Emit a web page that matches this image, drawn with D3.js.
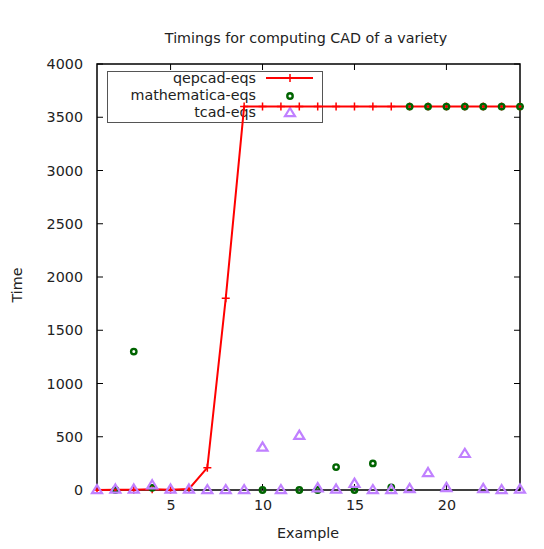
<!DOCTYPE html>
<html>
<head>
<meta charset="utf-8">
<script src="https://cdn.jsdelivr.net/npm/d3@7"></script>
<style>
  body { margin: 0; background: #fff; }
  text { font-family: "DejaVu Sans", sans-serif; fill: #222; }
</style>
</head>
<body>
<div id="chart"></div>
<script>
// values
const examples = d3.range(1, 25);
const qepcad = [1, 2, 2, 6, 3, 10, 210, 1800, 3600, 3600, 3600, 3600, 3600, 3600, 3600, 3600,
    3600, 3600, 3600, 3600, 3600, 3600, 3600, 3600];
const mathematica = [null, 0, 1300, 20, null, null, null, null, null, 0, null, 0, 0, 215, 0, 250,
    25, 3600, 3600, 3600, 3600, 3600, 3600, 3600];
const tcad = [0, 5, 5, 45, 5, 5, 0, 0, 0, 400, 0, 510, 18, 5, 60, 0, 0, 10, 160, 20, 340, 10, 0, 5];
const yTicks = d3.range(0, 4001, 500);
const xTicks = [5, 10, 15, 20];

const cfg = {
    width: 544,
    height: 549,
    margin: {left: 97, right: 24, top: 64, bottom: 59},
    red: "#ff0000",
    green: "#006400",
    purple: "#c080ff"
};

const w = cfg.width - cfg.margin.left - cfg.margin.right;
const h = cfg.height - cfg.margin.top - cfg.margin.bottom;

const svg = d3.select("#chart").append("svg")
    .attr("width", cfg.width).attr("height", cfg.height);

const x = d3.scaleLinear().domain([1, 24]).range([cfg.margin.left, cfg.margin.left + w]);
const y = d3.scaleLinear().domain([0, 4000]).range([cfg.margin.top + h, cfg.margin.top]);

// title and axis labels
svg.append("text").attr("x", 306).attr("y", 43).attr("text-anchor", "middle")
    .style("font-size", "14.3px").text("Timings for computing CAD of a variety");
svg.append("text").attr("transform", "translate(22,285) rotate(-90)")
    .attr("text-anchor", "middle").style("font-size", "14.3px").text("Time");
svg.append("text").attr("x", 308).attr("y", 538).attr("text-anchor", "middle")
    .style("font-size", "14.3px").text("Example");

// axes: ticks inside, mirrored
const axisLeft = d3.axisLeft(y).tickValues(yTicks).tickFormat(d3.format("d")).tickSize(0).tickPadding(14);
svg.append("g").attr("transform", `translate(${cfg.margin.left},0)`).call(axisLeft)
    .call(g => g.select(".domain").remove())
    .selectAll("text").style("font-size", "14.3px").style("font-family", "DejaVu Sans").attr("fill", "#222");
const axisBottom = d3.axisBottom(x).tickValues(xTicks).tickSize(0).tickPadding(10);
svg.append("g").attr("transform", `translate(0,${cfg.margin.top + h})`).call(axisBottom)
    .call(g => g.select(".domain").remove())
    .selectAll("text").style("font-size", "14.3px").style("font-family", "DejaVu Sans").attr("fill", "#222");

const ticks = svg.append("g").attr("stroke", "#000").attr("stroke-width", 1);
yTicks.forEach(v => {
    ticks.append("line").attr("x1", x(1)).attr("x2", x(1) + 6).attr("y1", y(v)).attr("y2", y(v));
    ticks.append("line").attr("x1", x(24)).attr("x2", x(24) - 6).attr("y1", y(v)).attr("y2", y(v));
});
xTicks.forEach(v => {
    ticks.append("line").attr("x1", x(v)).attr("x2", x(v)).attr("y1", y(0)).attr("y2", y(0) - 6);
    ticks.append("line").attr("x1", x(v)).attr("x2", x(v)).attr("y1", y(4000)).attr("y2", y(4000) + 6);
});
svg.append("rect").attr("x", x(1)).attr("y", y(4000)).attr("width", w).attr("height", h)
    .attr("fill", "none").attr("stroke", "#000").attr("stroke-width", 1.5);

// legend
const names = ["qepcad-eqs", "mathematica-eqs", "tcad-eqs"];
const legend = svg.append("g");
legend.append("rect").attr("x", 107.5).attr("y", 71.5).attr("width", 215).attr("height", 51)
    .attr("fill", "none").attr("stroke", "#555").attr("stroke-width", 1);
names.forEach((n, i) => {
    legend.append("text").attr("x", 256).attr("y", 83 + i * 17).attr("text-anchor", "end")
        .style("font-size", "14.3px").text(n);
});

function plus(g, cx, cy) {
    g.append("path").attr("d", `M${cx - 4},${cy}h8M${cx},${cy - 4}v8`)
        .attr("stroke", cfg.red).attr("stroke-width", 1.5).attr("fill", "none");
}
function circ(g, cx, cy) {
    g.append("circle").attr("cx", cx).attr("cy", cy).attr("r", 2.7)
        .attr("fill", "none").attr("stroke", cfg.green).attr("stroke-width", 2.4);
}
function tri(g, cx, cy) {
    g.append("path").attr("d", `M${cx},${cy - 5}L${cx + 5},${cy + 3.2}L${cx - 5},${cy + 3.2}Z`)
        .attr("fill", "none").attr("stroke", cfg.purple).attr("stroke-width", 2.2);
}

legend.append("line").attr("x1", 266).attr("x2", 313).attr("y1", 78).attr("y2", 78)
    .attr("stroke", cfg.red).attr("stroke-width", 2);
plus(legend, 290, 78);
circ(legend, 290, 96);
tri(legend, 290, 113);

// data
const plot = svg.append("g");
const line = d3.line().x((d, i) => x(examples[i])).y(d => y(d));
plot.append("path").datum(qepcad).attr("d", line)
    .attr("fill", "none").attr("stroke", cfg.red).attr("stroke-width", 2);
qepcad.forEach((v, i) => plus(plot, x(examples[i]), y(v)));
mathematica.forEach((v, i) => { if (v !== null) circ(plot, x(examples[i]), y(v)); });
tcad.forEach((v, i) => tri(plot, x(examples[i]), y(v)));
</script>
</body>
</html>
